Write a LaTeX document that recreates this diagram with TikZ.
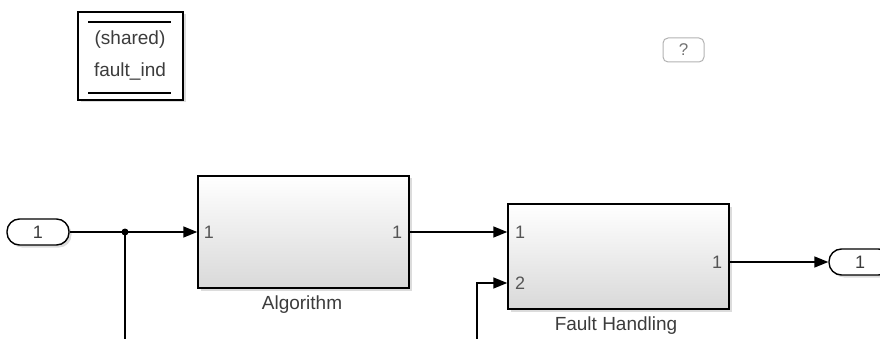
\documentclass[tikz,border=0pt]{standalone}
\usepackage{fontspec}
\setmainfont{Liberation Sans}
\usetikzlibrary{arrows.meta,shadows,positioning}
\definecolor{txt}{HTML}{3C3C3C}
\definecolor{porttxt}{HTML}{555555}
\tikzset{
  blk/.style={draw=black, line width=1.5pt, top color=white, bottom color=black!15,
    drop shadow={opacity=0.28, shadow xshift=2.5pt, shadow yshift=-2.5pt}, inner sep=0pt},
  oval/.style={draw=black, line width=1.4pt, rounded corners=12.5pt, fill=white,
    minimum width=62pt, minimum height=26pt, inner sep=0pt, text=txt,
    font=\fontsize{18}{20}\selectfont,
    drop shadow={opacity=0.28, shadow xshift=2.5pt, shadow yshift=-2.5pt}},
  wire/.style={line width=1.5pt, draw=black},
  arr/.style={wire, -{Triangle[length=14pt,width=11pt]}},
  lbl/.style={text=txt, font=\fontsize{19}{22}\selectfont, inner sep=0pt},
  plbl/.style={text=porttxt, font=\fontsize{18}{20}\selectfont, inner sep=0pt},
}
\begin{document}
\begin{tikzpicture}[x=1pt,y=-1pt]
\useasboundingbox (0,0) rectangle (880,339);
\begin{scope}
\clip (0,0) rectangle (880,339);
% data store block
\node[draw=black, line width=1.5pt, fill=white, minimum width=105pt, minimum height=88pt,
  drop shadow={opacity=0.28, shadow xshift=2.5pt, shadow yshift=-2.5pt}] (ds) at (130.5,56) {};
\draw[line width=1.4pt] (88,22) -- (171,22);
\draw[line width=1.4pt] (88,93) -- (171,93);
\node[lbl] (dsa) at (130,40) {(shared)};
\node[lbl] (dsb) at (130,72) {fault\_ind};
% help box
\node[draw=black!30, line width=1pt, rounded corners=5pt, minimum width=41pt, minimum height=24pt,
  text=black!55, font=\fontsize{17}{20}\selectfont, inner sep=0pt] (help) at (683.5,50) {?};
% inport
\node[oval] (inp) at (38,232) {1};
% blocks
\node[blk, minimum width=211pt, minimum height=112pt] (alg) at (303.5,232) {};
\node[plbl] (alg1) at (209,232) {1};
\node[plbl] (algo) at (397,232) {1};
\node[lbl] (algl) at (302,305) {Algorithm};
\node[blk, minimum width=221pt, minimum height=105pt] (fh) at (618.5,256.5) {};
\node[plbl] (fh1) at (520,232) {1};
\node[plbl] (fh2) at (520,283) {2};
\node[plbl] (fho) at (717,262) {1};
\node[lbl] (fhl) at (616,326) {Fault Handling};
% outport
\node[oval] (outp) at (860,262) {1};
% coordinates
\coordinate (algin) at (alg.west |- 0,232);
\coordinate (algout) at (alg.east |- 0,232);
\coordinate (fhin1) at (fh.west |- 0,232);
\coordinate (fhin2) at (fh.west |- 0,283);
\coordinate (fhout) at (fh.east |- 0,262);
\coordinate (br) at (125,232);
\coordinate (brend) at (125,345);
\coordinate (in2src) at (477,345);
% wires
\draw[arr] (inp.east) -- (algin);
\draw[wire] (br) -- (brend);
\fill (br) circle (3.5pt);
\draw[arr] (algout) -- (fhin1);
\draw[arr] (in2src) |- (fhin2);
\draw[arr] (fhout) -- (outp.west |- fhout);
\end{scope}
\end{tikzpicture}
\end{document}
